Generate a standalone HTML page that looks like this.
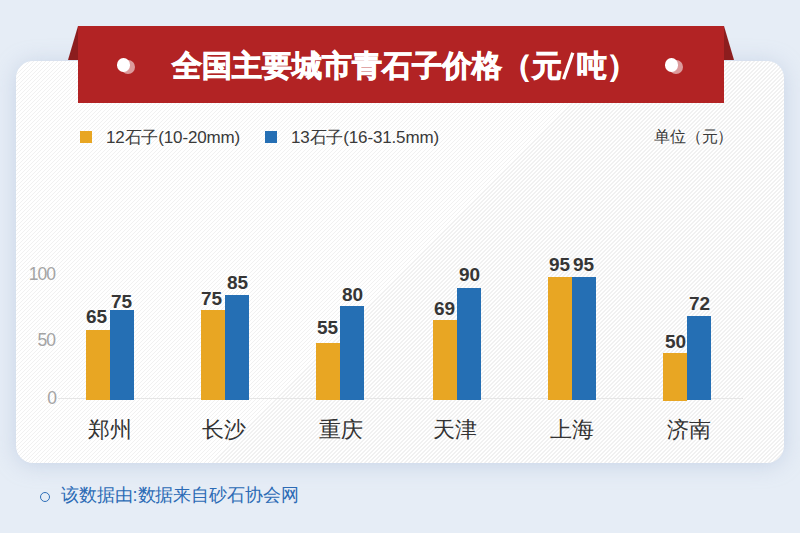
<!DOCTYPE html>
<html>
<head>
<meta charset="utf-8">
<style>
html,body{margin:0;padding:0;}
body{width:800px;height:533px;overflow:hidden;position:relative;background:#e6edf6;font-family:"Liberation Sans",sans-serif;}
.abs{position:absolute;}
.card{left:16px;top:61px;width:768px;height:402px;border-radius:17px;background-color:#fff;
  background-image:repeating-linear-gradient(-45deg,#fff 0,#fff 1.9px,#f1f1f1 1.9px,#f1f1f1 2.83px);
  box-shadow:0 2px 22px rgba(150,172,205,0.38);}
.banner{left:78px;top:26px;width:646px;height:76.5px;background:#b22324;}
.tri{top:26px;width:0;height:0;}
.title{left:172px;top:28px;height:76px;line-height:76px;text-align:left;color:#fff;font-weight:bold;font-size:30px;-webkit-text-stroke:0.8px #fff;white-space:nowrap;}
.dot{width:13px;height:13px;border-radius:50%;}
.sq{width:12px;height:12px;}
.leg{font-size:17px;color:#3a3a3a;white-space:nowrap;line-height:17px;letter-spacing:-0.15px;}
.ylab{font-size:17.5px;color:#a4a4a4;text-align:right;width:40px;line-height:18px;letter-spacing:-1px;}
.bar{bottom:133px;}
.o{background:#e8a623;}
.b{background:#256fb4;}
.val{font-size:19px;font-weight:bold;color:#363636;line-height:19px;white-space:nowrap;margin-top:-2px;margin-left:-1px;}
.city{font-size:22px;color:#333;line-height:22px;white-space:nowrap;text-align:center;width:80px;}
.foot{left:61px;top:484.5px;font-size:18px;color:#2c6bb5;line-height:20px;white-space:nowrap;letter-spacing:-0.1px;}
</style>
</head>
<body>
<div class="abs card"></div>
<svg class="abs" style="left:0;top:0" width="800" height="533">
  <polygon points="78,26 68,60 78,60" fill="#8c1d1e"/>
  <polygon points="724,26 734,60 724,60" fill="#8c1d1e"/>
</svg>
<div class="abs banner"></div>
<div class="abs title">全国主要城市青石子价格（元<svg width="15" height="30" style="vertical-align:-5px;overflow:visible" viewBox="0 0 15 30"><path d="M1.6 28.2 L10.8 1.8" stroke="#fff" stroke-width="3.3" fill="none"/></svg>吨）</div>
<div class="abs dot" style="left:121.3px;top:59.8px;width:13.8px;height:13.8px;background:rgba(255,255,255,0.55);"></div>
<div class="abs dot" style="left:117px;top:58.3px;width:12.8px;height:13.4px;background:#fff;"></div>
<div class="abs dot" style="left:669.1px;top:59.8px;width:13.8px;height:13.8px;background:rgba(255,255,255,0.55);"></div>
<div class="abs dot" style="left:665px;top:58.3px;width:12.8px;height:13.4px;background:#fff;"></div>

<div class="abs sq o" style="left:80px;top:131px;"></div>
<div class="abs leg" style="left:106px;top:129px;">12石子(10-20mm)</div>
<div class="abs sq b" style="left:265px;top:131px;"></div>
<div class="abs leg" style="left:291px;top:129px;">13石子(16-31.5mm)</div>
<div class="abs leg" style="left:654px;top:128px;font-size:16px;">单位（元）</div>

<div class="abs ylab" style="left:15px;top:265px;">100</div>
<div class="abs ylab" style="left:15px;top:331px;">50</div>
<div class="abs ylab" style="left:16px;top:389px;">0</div>
<div class="abs" style="left:58px;top:398px;width:685px;height:1px;background:#e6e6e6;"></div>

<!-- bars -->
<div class="abs o" style="left:86px;top:330px;width:24px;height:70px;"></div>
<div class="abs b" style="left:110px;top:310px;width:24px;height:90px;"></div>
<div class="abs o" style="left:201px;top:310px;width:24px;height:90px;"></div>
<div class="abs b" style="left:225px;top:295px;width:24px;height:105px;"></div>
<div class="abs o" style="left:316px;top:343px;width:24px;height:57px;"></div>
<div class="abs b" style="left:340px;top:306px;width:24px;height:94px;"></div>
<div class="abs o" style="left:433px;top:320px;width:24px;height:80px;"></div>
<div class="abs b" style="left:457px;top:288px;width:24px;height:112px;"></div>
<div class="abs o" style="left:548px;top:277px;width:24px;height:123px;"></div>
<div class="abs b" style="left:572px;top:277px;width:24px;height:123px;"></div>
<div class="abs o" style="left:663px;top:353px;width:24px;height:48px;"></div>
<div class="abs b" style="left:687px;top:316px;width:24px;height:84px;"></div>

<!-- values -->
<div class="abs val" style="left:87px;top:309px;">65</div>
<div class="abs val" style="left:112px;top:294px;">75</div>
<div class="abs val" style="left:202px;top:291px;">75</div>
<div class="abs val" style="left:228px;top:275px;">85</div>
<div class="abs val" style="left:318px;top:320px;">55</div>
<div class="abs val" style="left:343px;top:287px;">80</div>
<div class="abs val" style="left:435px;top:301px;">69</div>
<div class="abs val" style="left:460px;top:267px;">90</div>
<div class="abs val" style="left:550px;top:257px;">95</div>
<div class="abs val" style="left:574px;top:257px;">95</div>
<div class="abs val" style="left:666px;top:334px;">50</div>
<div class="abs val" style="left:690px;top:296px;">72</div>

<!-- cities -->
<div class="abs city" style="left:69.5px;top:419px;">郑州</div>
<div class="abs city" style="left:184px;top:419px;">长沙</div>
<div class="abs city" style="left:300.5px;top:419px;">重庆</div>
<div class="abs city" style="left:415px;top:419px;">天津</div>
<div class="abs city" style="left:532px;top:419px;">上海</div>
<div class="abs city" style="left:648.5px;top:419px;">济南</div>

<!-- footer -->
<div class="abs" style="left:39.5px;top:492px;width:10px;height:10px;box-sizing:border-box;border:1.8px solid #2f6fb8;border-radius:50%;"></div>
<div class="abs foot">该数据由:数据来自砂石协会网</div>
</body>
</html>
